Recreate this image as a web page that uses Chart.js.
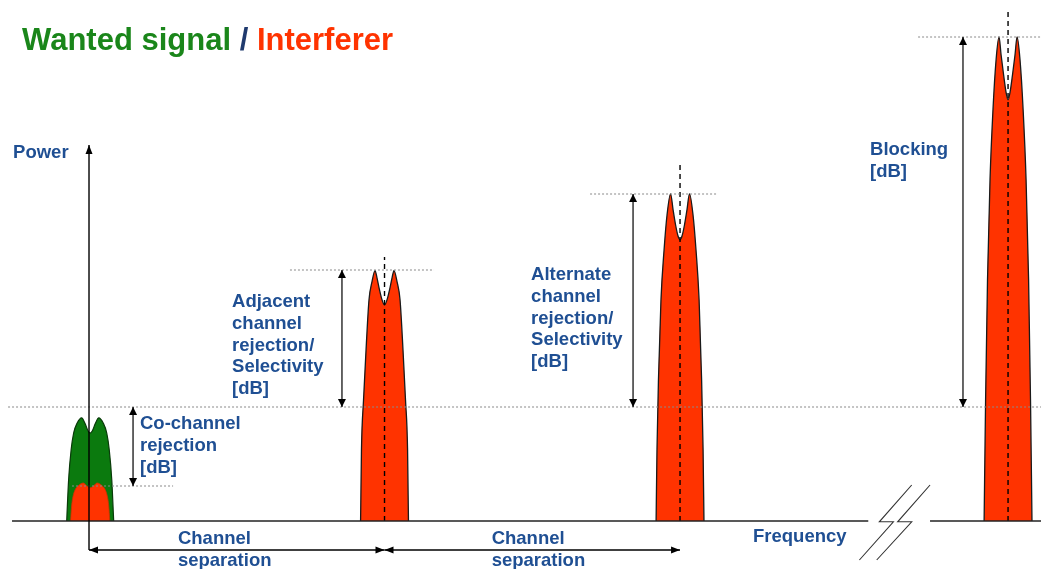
<!DOCTYPE html>
<html>
<head>
<meta charset="utf-8">
<script src="https://cdn.jsdelivr.net/npm/chart.js@4.4.1/dist/chart.umd.min.js"></script>
<style>
html,body{margin:0;padding:0;background:#ffffff;}
#wrap{width:1041px;height:569px;position:relative;}
</style>
</head>
<body>
<div id="wrap"><canvas id="c" width="1041" height="569"></canvas></div>
<script>
// ---------- DATA (frequency in kHz, power in dB above the noise floor) ----------
const channelCentersKHz = [0, 200, 400, 622];

// Wanted signal (green) at the co-channel position
const wantedX = [-15.1, -13.8, -12.1, -10.4, -8.0, -5.0, -2.6, -0.6, 0.8, 2.2, 4.2, 6.6, 9.6, 12.0, 13.7, 15.4, 16.7];
const wantedY = [0, 10.3, 17.8, 22.0, 24.5, 25.8, 24.3, 22.5, 22.0, 22.5, 24.3, 25.8, 24.5, 22.0, 17.8, 10.3, 0];

// Co-channel interferer (red, inside the wanted signal)
const coIntX = [-12.5, -11.7, -10.9, -9.4, -7.3, -3.9, -1.6, 0.8, 3.2, 5.5, 8.9, 11.0, 12.5, 13.3, 14.1];
const coIntY = [0, 4.0, 6.0, 7.8, 8.8, 9.5, 8.8, 8.3, 8.8, 9.5, 8.8, 7.8, 6.0, 4.0, 0];

// Adjacent channel interferer
const adjX = [183.8, 184.4, 185.8, 187.5, 189.5, 191.5, 193.6, 194.9, 196.6, 198.3, 200, 201.7, 203.4, 205.1, 206.4, 208.5, 210.5, 212.5, 214.2, 215.6, 216.2];
const adjY = [0, 17.8, 30.3, 42.8, 55.3, 59.8, 62.6, 60.8, 57.8, 55.3, 54.0, 55.3, 57.8, 60.8, 62.6, 59.8, 55.3, 42.8, 30.3, 17.8, 0];

// Alternate channel interferer
const altX = [383.8, 384.4, 385.4, 387.1, 389.2, 391.2, 393.6, 395.3, 397.0, 398.6, 400, 401.4, 403.0, 404.7, 406.4, 408.8, 410.8, 412.9, 414.6, 415.6, 416.2];
const altY = [0, 17.8, 35.3, 55.3, 67.8, 76.5, 81.8, 77.8, 74.0, 71.3, 70.3, 71.3, 74.0, 77.8, 81.8, 76.5, 67.8, 55.3, 35.3, 17.8, 0];

// Blocking interferer (far away, beyond the axis break)
const blockX = [605.8, 606.8, 608.1, 609.8, 611.8, 613.9, 615.9, 617.3, 619.0, 620.6, 622, 623.4, 625.0, 626.7, 628.1, 630.1, 632.2, 634.2, 635.9, 637.2, 638.2];
const blockY = [0, 30.3, 60.3, 85.3, 102.8, 115.3, 121.0, 116.5, 111.5, 107.3, 105.3, 107.3, 111.5, 116.5, 121.0, 115.3, 102.8, 85.3, 60.3, 30.3, 0];

// Levels (dB)
const refLevelDb = 28.5;        // wanted-signal reference level
const coChannelLevelDb = 8.75;
const adjTopDb = 62.75;
const altTopDb = 81.75;
const blockTopDb = 121.0;

// Text
const titleParts = ["Wanted signal", " / ", "Interferer"];
const powerLabel = ["Power"];
const freqLabel = ["Frequency"];
const coLabel = ["Co-channel", "rejection", "[dB]"];
const adjLabel = ["Adjacent", "channel", "rejection/", "Selectivity", "[dB]"];
const altLabel = ["Alternate", "channel", "rejection/", "Selectivity", "[dB]"];
const blockLabel = ["Blocking", "[dB]"];
const sepLabel = ["Channel", "separation"];

// ---------- STYLE ----------
const RED = '#ff3300';
const GREEN = '#0b7a0e';
const BLUE = '#1f4f93';
const GREY = '#8a8a8a';
const FONT = '"Liberation Sans", Arial, sans-serif';

const zip = (xs, ys) => xs.map((x, i) => ({x: x, y: ys[i]}));
const seg = (x1, y1, x2, y2) => [{x: x1, y: y1}, {x: x2, y: y2}];

function lineDs(data, opts) {
  return Object.assign({
    data: data, showLine: true, pointRadius: 0, borderColor: '#000', borderWidth: 1.4,
    fill: false, tension: 0, order: 1
  }, opts || {});
}
function peakDs(data, opts) {
  return lineDs(data, Object.assign({
    fill: 'origin', cubicInterpolationMode: 'monotone', borderColor: '#1a1a1a', borderWidth: 1.3,
    backgroundColor: RED, order: 10
  }, opts || {}));
}

const datasets = [
  // peaks (filled)
  peakDs(zip(wantedX, wantedY), {backgroundColor: GREEN, borderColor: '#0a3a0a', borderWidth: 1.2, order: 12}),
  peakDs(zip(coIntX, coIntY), {backgroundColor: RED, borderColor: '#d23000', borderWidth: 0.8, order: 11}),
  peakDs(zip(adjX, adjY)),
  peakDs(zip(altX, altY)),
  peakDs(zip(blockX, blockY)),

  // dashed channel-centre lines
  lineDs(seg(channelCentersKHz[1], 0, channelCentersKHz[1], 66), {borderDash: [5, 4], borderWidth: 1.4, order: 5}),
  lineDs(seg(channelCentersKHz[2], 0, channelCentersKHz[2], 89.75), {borderDash: [5, 4], borderWidth: 1.4, order: 5}),
  lineDs(seg(channelCentersKHz[3], 0, channelCentersKHz[3], 128.25), {borderDash: [5, 4], borderWidth: 1.4, order: 5}),

  // dotted level lines
  lineDs(seg(-54.8, refLevelDb, 644.3, refLevelDb), {borderColor: GREY, borderWidth: 1, borderDash: [2, 2], order: 4}),
  lineDs(seg(-11.5, coChannelLevelDb, 56.9, coChannelLevelDb), {borderColor: GREY, borderWidth: 1, borderDash: [2, 2], order: 4}),
  lineDs(seg(136, adjTopDb, 233.5, adjTopDb), {borderColor: GREY, borderWidth: 1, borderDash: [2, 2], order: 4}),
  lineDs(seg(339.1, altTopDb, 424.4, altTopDb), {borderColor: GREY, borderWidth: 1, borderDash: [2, 2], order: 4}),
  lineDs(seg(561.1, blockTopDb, 644.3, blockTopDb), {borderColor: GREY, borderWidth: 1, borderDash: [2, 2], order: 4}),

  // axes
  lineDs(seg(-52.1, 0, 527.4, 0), {borderColor: '#222', borderWidth: 1.6, order: 2}),
  lineDs(seg(569.2, 0, 644.3, 0), {borderColor: '#222', borderWidth: 1.6, order: 2}),
  lineDs(seg(0, -7.25, 0, 94), {borderColor: '#000', borderWidth: 1.4, arrowEnds: 'end', arrowLen: 9, arrowWidth: 3.5, order: 1}),

  // axis break marks
  lineDs([{x: 556.8, y: 9}, {x: 534.9, y: -0.2}, {x: 544.4, y: -0.2}, {x: 521.4, y: -9.75}], {borderColor: '#333', borderWidth: 1.1, order: 2}),
  lineDs([{x: 569.2, y: 9}, {x: 547.3, y: -0.2}, {x: 556.8, y: -0.2}, {x: 533.1, y: -9.75}], {borderColor: '#333', borderWidth: 1.1, order: 2}),

  // measurement arrows
  lineDs(seg(29.8, refLevelDb, 29.8, coChannelLevelDb), {borderWidth: 1.2, arrowEnds: 'both', arrowLen: 8, arrowWidth: 4, order: 1}),
  lineDs(seg(171.2, refLevelDb, 171.2, adjTopDb), {borderWidth: 1.2, arrowEnds: 'both', arrowLen: 8, arrowWidth: 4, order: 1}),
  lineDs(seg(368.2, refLevelDb, 368.2, altTopDb), {borderWidth: 1.2, arrowEnds: 'both', arrowLen: 8, arrowWidth: 4, order: 1}),
  lineDs(seg(591.5, refLevelDb, 591.5, blockTopDb), {borderWidth: 1.2, arrowEnds: 'both', arrowLen: 8, arrowWidth: 4, order: 1}),

  // channel separation arrows
  lineDs(seg(channelCentersKHz[0], -7.25, channelCentersKHz[1], -7.25), {borderWidth: 1.4, arrowEnds: 'both', arrowLen: 9, arrowWidth: 3.5, order: 1}),
  lineDs(seg(channelCentersKHz[1], -7.25, channelCentersKHz[2], -7.25), {borderWidth: 1.4, arrowEnds: 'both', arrowLen: 9, arrowWidth: 3.5, order: 1})
];

// ---------- PLUGINS ----------
const arrowPlugin = {
  id: 'arrowHeads',
  afterDatasetsDraw(chart) {
    const ctx = chart.ctx;
    chart.data.datasets.forEach((ds, i) => {
      if (!ds.arrowEnds) return;
      const pts = chart.getDatasetMeta(i).data;
      const n = pts.length;
      const L = ds.arrowLen || 9, W = ds.arrowWidth || 4;
      const head = (tip, from) => {
        const a = Math.atan2(tip.y - from.y, tip.x - from.x);
        const bx = tip.x - L * Math.cos(a), by = tip.y - L * Math.sin(a);
        ctx.beginPath();
        ctx.moveTo(tip.x, tip.y);
        ctx.lineTo(bx + W * Math.sin(a), by - W * Math.cos(a));
        ctx.lineTo(bx - W * Math.sin(a), by + W * Math.cos(a));
        ctx.closePath();
        ctx.fill();
      };
      ctx.save();
      ctx.fillStyle = ds.borderColor;
      if (ds.arrowEnds === 'start' || ds.arrowEnds === 'both') head(pts[0], pts[1]);
      if (ds.arrowEnds === 'end' || ds.arrowEnds === 'both') head(pts[n - 1], pts[n - 2]);
      ctx.restore();
    });
  }
};

const notes = [
  {lines: powerLabel, x: -51.4, y: 92.0},
  {lines: coLabel, x: 34.5, y: 24.25},
  {lines: adjLabel, x: 96.8, y: 54.75},
  {lines: altLabel, x: 299.2, y: 61.5},
  {lines: blockLabel, x: 528.6, y: 92.75},
  {lines: sepLabel, x: 60.2, y: -4.5},
  {lines: sepLabel, x: 272.5, y: -4.5},
  {lines: freqLabel, x: 449.4, y: -4.0}
];

const textPlugin = {
  id: 'annotText',
  afterDraw(chart) {
    const ctx = chart.ctx, xs = chart.scales.x, ys = chart.scales.y;
    ctx.save();
    ctx.font = 'bold 18.5px ' + FONT;
    ctx.fillStyle = BLUE;
    ctx.textAlign = 'left';
    ctx.textBaseline = 'middle';
    notes.forEach(n => {
      const px = xs.getPixelForValue(n.x), py = ys.getPixelForValue(n.y);
      n.lines.forEach((t, k) => ctx.fillText(t, px, py + k * 21.8));
    });
    // title
    ctx.font = 'bold 31px ' + FONT;
    ctx.textBaseline = 'alphabetic';
    const colors = ['#1a861a', '#1f3a6e', RED];
    let tx = xs.getPixelForValue(-45.3);
    const ty = ys.getPixelForValue(117.75);
    titleParts.forEach((t, k) => {
      ctx.fillStyle = colors[k];
      ctx.fillText(t, tx, ty);
      tx += ctx.measureText(t).width;
    });
    ctx.restore();
  }
};

new Chart(document.getElementById('c'), {
  type: 'scatter',
  data: {datasets: datasets},
  options: {
    responsive: false,
    animation: false,
    events: [],
    layout: {padding: 0},
    plugins: {legend: {display: false}, tooltip: {enabled: false}, title: {display: false}},
    scales: {
      x: {type: 'linear', display: false, min: -60.24, max: 644.3},
      y: {type: 'linear', display: false, min: -12, max: 130.25}
    }
  },
  plugins: [arrowPlugin, textPlugin]
});
</script>
</body>
</html>
